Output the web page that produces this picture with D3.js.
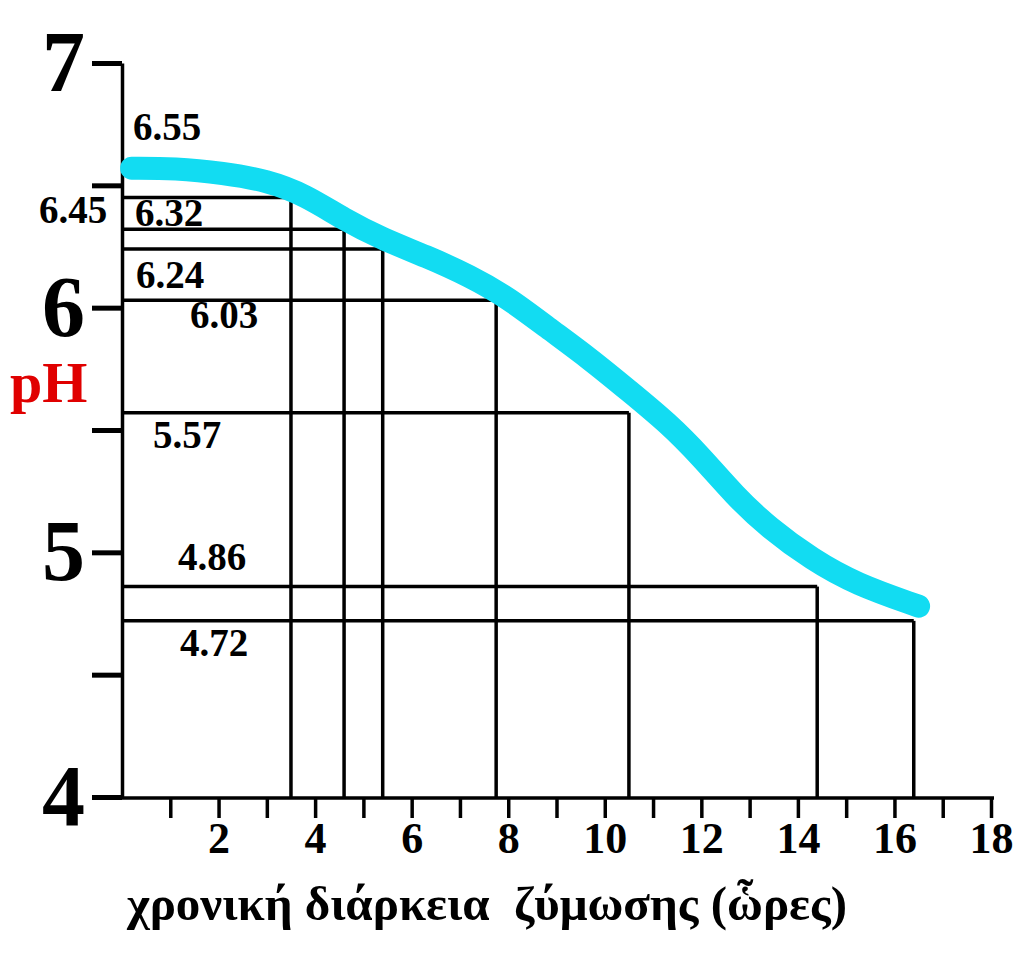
<!DOCTYPE html>
<html>
<head>
<meta charset="utf-8">
<script src="https://cdn.jsdelivr.net/npm/d3@7"></script>
<style>
  body { margin: 0; background: #fff; }
  svg { display: block; }
  text { font-family: "Liberation Serif", "DejaVu Serif", serif; font-weight: bold; }
</style>
</head>
<body>
<svg id="chart" width="1024" height="960"></svg>
<script>
// fermentation curve
const curveHours = [0.2, 1.1, 2.1, 3.0, 3.8, 4.6, 5.4, 6.3, 7.2, 8.0, 8.8, 9.7, 10.5, 11.3, 12.0, 12.7, 13.4, 14.3, 15.2, 16.5];
const curvePH = [6.57, 6.57, 6.55, 6.52, 6.46, 6.36, 6.28, 6.21, 6.13, 6.04, 5.92, 5.79, 5.66, 5.53, 5.39, 5.23, 5.10, 4.97, 4.87, 4.78];

// marked readings (drop lines)
const markHours = [3.5, 4.6, 5.4, 7.75, 10.5, 14.4, 16.4];
const markPH = [6.45, 6.32, 6.24, 6.03, 5.57, 4.86, 4.72];

// value labels
const labelValues = [6.55, 6.45, 6.32, 6.24, 6.03, 5.57, 4.86, 4.72];

// axes
const yTicks = [4, 4.5, 5, 5.5, 6, 6.5, 7];
const xTicks = [1, 2, 3, 4, 5, 6, 7, 8, 9, 10, 11, 12, 13, 14, 15, 16, 17, 18];

// label layout, pixels from the y axis / the value's height
const labelDx = [11, -83, 13, 14, 68, 31, 56, 58];
const labelDy = [-33, 25, -3, 39, 28, 35, -17, 35];

const svg = d3.select("#chart");
svg.append("rect").attr("width", 1024).attr("height", 960).attr("fill", "#fff");

let x = d3.scaleLinear().domain([0, 18]).range([122, 991]);
let y = d3.scaleLinear().domain([4, 7]).range([797, 63]);

// drop lines
let grid = svg.append("g").attr("stroke", "#000").attr("stroke-width", 3.5);
markHours.forEach((h, i) => {
    grid.append("line")
        .attr("x1", x(0)).attr("x2", x(h))
        .attr("y1", y(markPH[i])).attr("y2", y(markPH[i]));
    grid.append("line")
        .attr("x1", x(h)).attr("x2", x(h))
        .attr("y1", y(markPH[i])).attr("y2", y(4));
});

// y axis
let yAxis = d3.axisLeft(y)
    .tickValues(yTicks)
    .tickSize(30)
    .tickSizeOuter(0)
    .tickPadding(7)
    .tickFormat(d => Number.isInteger(d) ? d : "");

let gy = svg.append("g").attr("transform", `translate(${x(0)},0)`).call(yAxis);
gy.select(".domain").attr("stroke", "#000").attr("stroke-width", 3.5);
gy.selectAll(".tick line").attr("stroke", "#000").attr("stroke-width", 5);
gy.selectAll(".tick text")
    .attr("font-size", 86)
    .attr("font-family", "Liberation Serif")
    .attr("font-weight", "bold")
    .attr("fill", "#000");

// x axis
let xAxis = d3.axisBottom(x)
    .tickValues(xTicks)
    .tickSize(20)
    .tickSizeOuter(0)
    .tickPadding(4)
    .tickFormat(d => d % 2 === 0 ? d : "");

let gx = svg.append("g").attr("transform", `translate(0,${y(4) + 1})`).call(xAxis);
gx.select(".domain").attr("stroke", "#000").attr("stroke-width", 3.5)
    .attr("d", `M${x(0)},0H${x(18) + 3}`);
gx.selectAll(".tick line").attr("stroke", "#000").attr("stroke-width", 3.5);
gx.selectAll(".tick text")
    .attr("font-size", 44)
    .attr("font-family", "Liberation Serif")
    .attr("font-weight", "bold")
    .attr("fill", "#000");

// curve
let line = d3.line()
    .x((d, i) => x(curveHours[i]))
    .y(d => y(d))
    .curve(d3.curveBasis);

svg.append("path")
    .datum(curvePH)
    .attr("d", line)
    .attr("fill", "none")
    .attr("stroke", "#12dcf2")
    .attr("stroke-width", 23)
    .attr("stroke-linecap", "round")
    .attr("stroke-linejoin", "round");

// value labels
svg.append("g").selectAll("text")
    .data(labelValues)
    .join("text")
    .attr("x", (d, i) => x(0) + labelDx[i])
    .attr("y", (d, i) => y(d) + labelDy[i])
    .attr("font-size", 39)
    .attr("fill", "#000")
    .text(d => d.toFixed(2));

// axis titles
svg.append("text")
    .attr("x", 10)
    .attr("y", 402)
    .attr("font-size", 58)
    .attr("fill", "#e00000")
    .text("pH");

svg.append("text")
    .attr("x", 127)
    .attr("y", 920)
    .attr("font-size", 49)
    .attr("fill", "#000")
    .style("white-space", "pre")
    .text("χρονική διάρκεια  ζύμωσης (ὧρες)");
</script>
</body>
</html>
